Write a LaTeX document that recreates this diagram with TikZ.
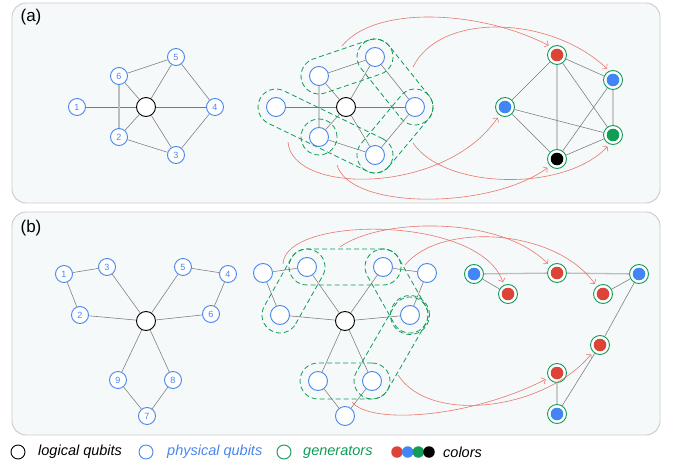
\documentclass[tikz,border=0pt]{standalone}
\usepackage{fontspec}
\setmainfont{Liberation Sans}
\usetikzlibrary{arrows.meta,calc}

\definecolor{pblue}{HTML}{4A86F0}
\definecolor{gred}{HTML}{DB4437}
\definecolor{ggreen}{HTML}{0F9D58}
\definecolor{gblue}{HTML}{4285F4}
\definecolor{arrred}{HTML}{E8766B}
\definecolor{panelbg}{HTML}{F5F9FA}
\definecolor{panelline}{HTML}{C8CCCE}
\definecolor{edgegray}{HTML}{7A7A7A}
\definecolor{softgray}{HTML}{BDBDBD}

% dashed pill-shaped generator enclosing two qubits: name, first, second, radius
\newcommand\genpill[4]{%
  \path let \p1=($(#3)-(#2)$), \n1={veclen(\x1,\y1)}, \n2={atan2(\y1,\x1)} in
    node[gen, minimum width=\n1+2*#4, minimum height=2*#4, rounded corners=#4, rotate=\n2]
      (#1) at ($(#2)!0.5!(#3)$) {};}

\begin{document}
\begin{tikzpicture}[x=1pt,y=-1pt,
  panel/.style={draw=panelline, fill=panelbg, line width=0.9pt, rounded corners=14pt},
  edge/.style={draw=edgegray, line width=0.55pt},
  softedge/.style={draw=softgray, line width=1.3pt},
  lq/.style={circle, draw=black, line width=0.9pt, fill=white, minimum size=19pt, inner sep=0pt},
  pq/.style={circle, draw=pblue, line width=0.9pt, fill=white, minimum size=17pt, inner sep=0pt,
             text=pblue, font=\fontsize{9}{9}\selectfont},
  pqm/.style={pq, minimum size=19pt},
  cq/.style={circle, draw=ggreen, line width=0.9pt, fill=white, minimum size=19pt, inner sep=0pt,
             path picture={\fill[#1] (path picture bounding box.center) circle (6.3pt);}},
  gen/.style={draw=ggreen, line width=0.8pt, dash pattern=on 5pt off 3pt, inner sep=0pt, rectangle},
  gencirc/.style={gen, circle, minimum size=36pt},
  arr/.style={draw=arrred, line width=0.6pt, -{Straight Barb[length=3pt,width=7pt]}, shorten >=3pt},
  lab/.style={font=\fontsize{17}{17}\selectfont},
  leg/.style={font=\fontsize{14.5}{14.5}\selectfont\itshape, anchor=west, inner sep=0pt},
  legring/.style={circle, line width=0.9pt, fill=white, minimum size=14pt, inner sep=0pt},
  legdot/.style={circle, minimum size=11.5pt, inner sep=0pt}]

\useasboundingbox (0,0) rectangle (683,468);

% panels
\path[panel] (12,3) rectangle (660,203);
\path[panel] (12,212) rectangle (660,435);
\node[lab] (tA) at (31,17) {(a)};
\node[lab] (tB) at (31,228) {(b)};

%================ panel (a) ================
% code graph
\node[lq] (la0) at (146,107) {};
\node[pq] (la1) at (77,107) {1};
\node[pq] (la2) at (119,137) {2};
\node[pq] (la3) at (176,155) {3};
\node[pq] (la4) at (215,107) {4};
\node[pq] (la5) at (176,57) {5};
\node[pq] (la6) at (119,76) {6};
\foreach \i in {1,...,6} \draw[edge] (la0) -- (la\i);
\draw[edge] (la6) -- (la5) (la5) -- (la4) (la4) -- (la3) (la3) -- (la2);
\draw[softedge] (la6) -- (la2);

% graph with generators
\node[lq] (ma0) at (346,107) {};
\node[pqm] (ma1) at (276,107) {};
\node[pqm] (ma2) at (319,137) {};
\node[pqm] (ma3) at (375,155) {};
\node[pqm] (ma4) at (415,107) {};
\node[pqm] (ma5) at (375,57) {};
\node[pqm] (ma6) at (319,76) {};
\foreach \i in {1,...,6} \draw[edge] (ma0) -- (ma\i);
\draw[edge] (ma6) -- (ma5) (ma5) -- (ma4) (ma4) -- (ma3) (ma3) -- (ma2) (ma2) -- (ma6);
\genpill{ga1}{ma6}{ma5}{18pt}
\genpill{ga2}{ma5}{ma4}{18pt}
\genpill{ga3}{ma4}{ma3}{18pt}
\genpill{ga4}{ma1}{ma3}{18pt}
\node[gencirc] (ga5) at (ma2) {};

% coloured generator graph
\node[cq=gred]  (rar) at (557,55) {};
\node[cq=gblue] (rab1) at (613,80) {};
\node[cq=gblue] (rab2) at (505,107) {};
\node[cq=ggreen] (rag) at (613,135) {};
\node[cq=black] (rak) at (557,159) {};
\draw[edge] (rar) -- (rab1) (rar) -- (rab2) (rar) -- (rak) (rar) -- (rag)
            (rab1) -- (rag) (rab1) -- (rak) (rab2) -- (rag) (rab2) -- (rak) (rak) -- (rag);

% mapping arrows
\coordinate (sa1) at (342,46);
\coordinate (sa2) at (413,67);
\coordinate (sa3) at (288,142);
\coordinate (sa4) at (337,165);
\coordinate (sa5) at (413,143);
\draw[arr] (sa1) .. controls (375,5) and (480,10) .. (rar.125);
\draw[arr] (sa2) .. controls (440,12) and (550,15) .. (rab1.112);
\draw[arr] (sa3) .. controls (292,195) and (445,195) .. (rab2.235);
\draw[arr] (sa4) .. controls (350,210) and (490,210) .. (rak.225);
\draw[arr] (sa5) .. controls (445,190) and (565,192) .. (rag.250);

%================ panel (b) ================
% code graph
\node[lq] (lb0) at (146,321) {};
\node[pq] (lb1) at (64,274) {1};
\node[pq] (lb2) at (80,315) {2};
\node[pq] (lb3) at (107,267) {3};
\node[pq] (lb4) at (228,274) {4};
\node[pq] (lb5) at (183,267) {5};
\node[pq] (lb6) at (211,314) {6};
\node[pq] (lb7) at (147,416) {7};
\node[pq] (lb8) at (173,380) {8};
\node[pq] (lb9) at (118,380) {9};
\foreach \i in {2,3,5,6,8,9} \draw[edge] (lb0) -- (lb\i);
\draw[edge] (lb1) -- (lb3) (lb1) -- (lb2) (lb5) -- (lb4) (lb4) -- (lb6) (lb9) -- (lb7) (lb8) -- (lb7);

% graph with generators
\node[lq] (mb0) at (345,321) {};
\node[pqm] (mb1) at (263,273) {};
\node[pqm] (mb2) at (280,315) {};
\node[pqm] (mb3) at (307,267) {};
\node[pqm] (mb4) at (427,273) {};
\node[pqm] (mb5) at (383,267) {};
\node[pqm] (mb6) at (410,315) {};
\node[pqm] (mb7) at (345,416) {};
\node[pqm] (mb8) at (372,381) {};
\node[pqm] (mb9) at (318,381) {};
\foreach \i in {2,3,5,6,8,9} \draw[edge] (mb0) -- (mb\i);
\draw[edge] (mb1) -- (mb3) (mb1) -- (mb2) (mb5) -- (mb4) (mb4) -- (mb6) (mb9) -- (mb7) (mb8) -- (mb7);
\genpill{gb1}{mb3}{mb2}{18pt}
\genpill{gb2}{mb3}{mb5}{18pt}
\genpill{gb3}{mb5}{mb6}{18pt}
\genpill{gb4}{mb6}{mb8}{18pt}
\genpill{gb5}{mb9}{mb8}{18pt}
\node[gencirc, minimum size=39pt] (gb6) at (mb6) {};

% coloured generator graph
\node[cq=gblue] (rbb1) at (474,274) {};
\node[cq=gred]  (rbr1) at (508,294) {};
\node[cq=gred]  (rbr2) at (557,273) {};
\node[cq=gred]  (rbr3) at (603,294) {};
\node[cq=gblue] (rbb2) at (639,274) {};
\node[cq=gred]  (rbr4) at (600,345) {};
\node[cq=gred]  (rbr5) at (557,373) {};
\node[cq=gblue] (rbb3) at (557,414) {};
\draw[softedge] (rbb1) -- (rbr2) (rbr2) -- (rbb2);
\draw[edge] (rbb1) -- (rbr1) (rbr3) -- (rbb2) (rbb2) -- (rbr4) (rbr4) -- (rbb3) (rbr5) -- (rbb3);

% mapping arrows
\coordinate (sb1) at (283,264);
\coordinate (sb2) at (340,247);
\coordinate (sb3) at (405,265);
\coordinate (sb4) at (398,375);
\coordinate (sb5) at (352,402);
\draw[arr] (sb1) .. controls (285,215) and (480,215) .. (rbr1.115);
\draw[arr] (sb2) .. controls (380,218) and (500,215) .. (rbr2.135);
\draw[arr] (sb3) .. controls (440,222) and (555,228) .. (rbr3.130);
\draw[arr] (sb4) .. controls (430,425) and (545,410) .. (rbr4.225);
\draw[arr] (sb5) .. controls (370,425) and (470,418) .. (rbr5.210);

%================ legend ================
\node[legring, draw=black] (kL) at (18,452) {};
\node[leg] (kLt) at (38,452) {logical qubits};
\node[legring, draw=pblue] (kP) at (146,452) {};
\node[leg, text=pblue] (kPt) at (167,452) {physical qubits};
\node[legring, draw=ggreen] (kG) at (284,452) {};
\node[leg, text=ggreen] (kGt) at (303,452) {generators};
\node[legdot, fill=gred] (kc1) at (397,452) {};
\node[legdot, fill=gblue] (kc2) at (407.7,452) {};
\node[legdot, fill=ggreen] (kc3) at (418.3,452) {};
\node[legdot, fill=black] (kc4) at (429,452) {};
\node[leg] (kCt) at (443,452) {colors};
\end{tikzpicture}
\end{document}
